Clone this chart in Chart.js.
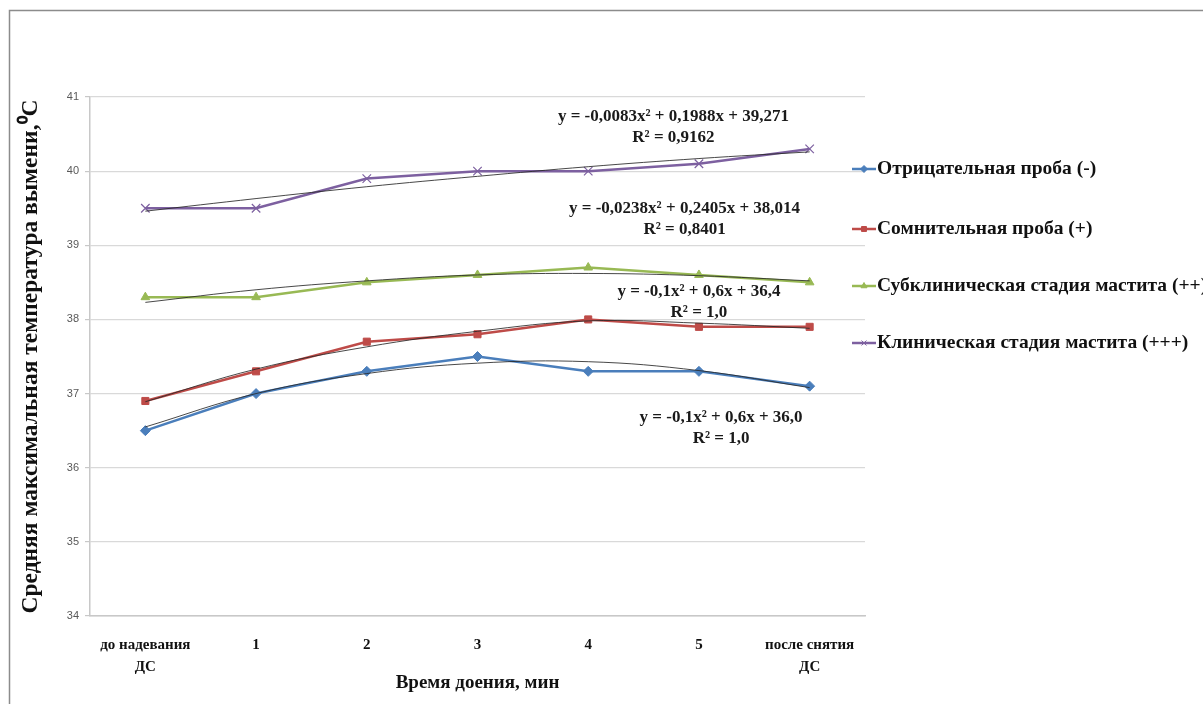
<!DOCTYPE html>
<html>
<head>
<meta charset="utf-8">
<script src="https://cdn.jsdelivr.net/npm/chart.js@4.4.0/dist/chart.umd.min.js"></script>
<style>
  html, body { margin: 0; padding: 0; background: #fff; }
  canvas { display: block; }
</style>
</head>
<body>
<canvas id="grafico" width="1203" height="704"></canvas>
<script>
// categorías del eje X
const categorias = [['до надевания', 'ДС'], '1', '2', '3', '4', '5', ['после снятия', 'ДС']];

// valores medidos
const negativa    = [36.5, 37.0, 37.3, 37.5, 37.3, 37.3, 37.1];
const dudosa      = [36.9, 37.3, 37.7, 37.8, 38.0, 37.9, 37.9];
const subclinica  = [38.3, 38.3, 38.5, 38.6, 38.7, 38.6, 38.5];
const clinica     = [39.5, 39.5, 39.9, 40.0, 40.0, 40.1, 40.3];

// líneas de tendencia
const tendNegativa   = [36.55, 37.0, 37.27, 37.41, 37.43, 37.31, 37.08];
const tendDudosa     = [36.89, 37.33, 37.63, 37.84, 37.98, 37.95, 37.88];
const tendSubclinica = [38.23, 38.40, 38.52, 38.60, 38.62, 38.59, 38.52];
const tendClinica    = [39.46, 39.63, 39.79, 39.93, 40.06, 40.17, 40.26];

const nombres = [
  'Отрицательная проба (-)',
  'Сомнительная проба (+)',
  'Субклиническая стадия мастита (++)',
  'Клиническая стадия мастита (+++)'
];

// ecuaciones: texto y posición (índice de categoría, valor)
const ecuaciones = [
  { lineas: ['y = -0,0083x² + 0,1988x + 39,271', 'R² = 0,9162'], x: 4.77, y: 40.74 },
  { lineas: ['y = -0,0238x² + 0,2405x + 38,014', 'R² = 0,8401'], x: 4.87, y: 39.49 },
  { lineas: ['y = -0,1x² + 0,6x + 36,4', 'R² = 1,0'], x: 5.0, y: 38.37 },
  { lineas: ['y = -0,1x² + 0,6x + 36,0', 'R² = 1,0'], x: 5.2, y: 36.67 }
];

const colores = ['#4a7ebb', '#be4b48', '#98b954', '#7d60a0'];
const marcas = ['rectRot', 'rect', 'triangle', 'crossRot'];
const serif = '"Liberation Serif", "Times New Roman", serif';

function serie(nombre, datos, i) {
  return {
    label: nombre,
    data: datos,
    borderColor: colores[i],
    backgroundColor: colores[i],
    borderWidth: 2.5,
    pointStyle: marcas[i],
    pointRadius: i === 3 ? 6 : 5,
    pointBorderWidth: i === 3 ? 1.2 : 1,
    tension: 0,
    order: 2
  };
}

function tendencia(datos) {
  return {
    label: 'tendencia',
    data: datos,
    borderColor: 'rgba(40,40,40,0.85)',
    borderWidth: 1,
    pointRadius: 0,
    tension: 0.4,
    order: 1
  };
}

const extras = {
  id: 'extras',
  afterDraw(chart) {
    const ctx = chart.ctx;
    const xs = chart.scales.x, ys = chart.scales.y;
    ctx.save();
    // marco
    ctx.strokeStyle = '#8c8c8c';
    ctx.lineWidth = 1.5;
    ctx.beginPath();
    ctx.moveTo(9.5, 704);
    ctx.lineTo(9.5, 10.5);
    ctx.lineTo(1203, 10.5);
    ctx.stroke();

    // ecuaciones
    ctx.fillStyle = '#1a1a1a';
    ctx.font = 'bold 17px ' + serif;
    ctx.textAlign = 'center';
    ctx.textBaseline = 'middle';
    ecuaciones.forEach(e => {
      const px = xs.getPixelForValue(e.x);
      const py = ys.getPixelForValue(e.y);
      e.lineas.forEach((t, k) => ctx.fillText(t, px, py + k * 21));
    });

    // leyenda
    const filas = [169, 229, 286, 343];
    ctx.textAlign = 'left';
    ctx.font = 'bold 19.5px ' + serif;
    nombres.forEach((n, i) => {
      const y = filas[i];
      ctx.strokeStyle = colores[i];
      ctx.fillStyle = colores[i];
      ctx.lineWidth = 2.5;
      ctx.beginPath();
      ctx.moveTo(852, y);
      ctx.lineTo(876, y);
      ctx.stroke();
      ctx.lineWidth = 1;
      Chart.helpers.drawPoint(ctx, {
        pointStyle: marcas[i], radius: 3.5, borderWidth: 1
      }, 864, y);
      ctx.fillStyle = '#111';
      ctx.fillText(n, 877, y);
    });
    ctx.restore();
  }
};

new Chart(document.getElementById('grafico'), {
  type: 'line',
  data: {
    labels: categorias,
    datasets: [
      serie(nombres[0], negativa, 0),
      serie(nombres[1], dudosa, 1),
      serie(nombres[2], subclinica, 2),
      serie(nombres[3], clinica, 3),
      tendencia(tendNegativa),
      tendencia(tendDudosa),
      tendencia(tendSubclinica),
      tendencia(tendClinica)
    ]
  },
  options: {
    responsive: false,
    animation: false,
    layout: { padding: { left: 0, top: 97, right: 338, bottom: 0 } },
    plugins: {
      legend: { display: false },
      tooltip: { enabled: false }
    },
    scales: {
      x: {
        offset: true,
        grid: { display: false },
        border: { display: true, color: '#c8c8c8', width: 1.5 },
        ticks: {
          color: '#111',
          font: { family: serif, size: 15, weight: 'bold', lineHeight: 1.45 },
          padding: 10,
          maxRotation: 0,
          autoSkip: false
        },
        title: {
          display: true,
          text: 'Время доения, мин',
          color: '#111',
          font: { family: serif, size: 19, weight: 'bold' },
          padding: { top: 0, bottom: 10 }
        },
        afterFit(scale) { scale.height = 88; }
      },
      y: {
        min: 34,
        max: 41,
        ticks: {
          stepSize: 1,
          color: '#595959',
          font: { family: '"Liberation Sans", Arial, sans-serif', size: 11 },
          padding: 6
        },
        grid: { color: '#d9d9d9', lineWidth: 1.2, tickLength: 5, tickColor: '#c8c8c8' },
        border: { display: true, color: '#c8c8c8', width: 1.5 },
        title: {
          display: true,
          text: 'Средняя максимальная температура вымени,⁰С',
          color: '#111',
          font: { family: serif, size: 23.5, weight: 'bold' },
          padding: { top: 17, bottom: 0 }
        },
        afterFit(scale) { scale.width = 90; }
      }
    }
  },
  plugins: [extras]
});
</script>
</body>
</html>
